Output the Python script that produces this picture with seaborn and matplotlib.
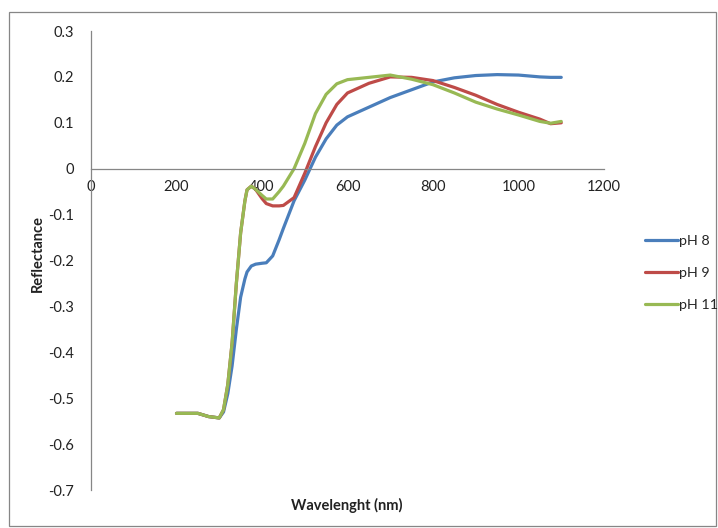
import matplotlib
matplotlib.use("Agg")
import matplotlib.pyplot as plt
import seaborn as sns
import pandas as pd
from matplotlib.patches import Rectangle

wavelength = [200, 250, 275, 300, 310, 320, 330, 340, 350, 360, 365, 375, 385, 400,
              410, 425, 440, 450, 475, 500, 525, 550, 575, 600, 650, 700, 750, 800,
              850, 900, 950, 1000, 1050, 1075, 1100]
ph8 = [-0.533, -0.533, -0.540, -0.543, -0.530, -0.490, -0.430, -0.350, -0.280, -0.240,
       -0.225, -0.212, -0.208, -0.206, -0.205, -0.190, -0.155, -0.130, -0.070, -0.025,
       0.025, 0.065, 0.095, 0.113, 0.134, 0.155, 0.172, 0.189, 0.198, 0.203, 0.205,
       0.204, 0.200, 0.199, 0.199]
ph9 = [-0.533, -0.533, -0.540, -0.543, -0.525, -0.470, -0.380, -0.250, -0.140, -0.070,
       -0.046, -0.038, -0.045, -0.065, -0.076, -0.081, -0.081, -0.080, -0.063, -0.010,
       0.048, 0.100, 0.140, 0.165, 0.186, 0.200, 0.199, 0.192, 0.177, 0.160, 0.140,
       0.123, 0.108, 0.098, 0.100]
ph11 = [-0.533, -0.533, -0.540, -0.543, -0.525, -0.470, -0.380, -0.250, -0.140, -0.070,
        -0.046, -0.038, -0.045, -0.058, -0.066, -0.066, -0.050, -0.038, 0.000, 0.055,
        0.120, 0.162, 0.185, 0.194, 0.199, 0.204, 0.195, 0.183, 0.165, 0.145, 0.130,
        0.117, 0.103, 0.099, 0.103]
series_names = ["pH 8", "pH 9", "pH 11"]
colors = ["#4A7EBB", "#BE4B48", "#98B954"]
x_ticks = [0, 200, 400, 600, 800, 1000, 1200]
y_ticks = [0.3, 0.2, 0.1, 0, -0.1, -0.2, -0.3, -0.4, -0.5, -0.6, -0.7]

df = pd.concat([
    pd.DataFrame({"Wavelength": wavelength, "Reflectance": vals, "Series": name})
    for name, vals in zip(series_names, [ph8, ph9, ph11])
], ignore_index=True)

sns.set_theme(style="white")
plt.rcParams["font.family"] = ["Lato", "DejaVu Sans"]

fig = plt.figure(figsize=(7.18, 5.28), dpi=100)
ax = fig.add_axes([91/718, 1-490/528, (604-91)/718, (490-31)/528])

sns.lineplot(data=df, x="Wavelength", y="Reflectance", hue="Series",
             palette=colors, linewidth=2.3, ax=ax, sort=False, legend=False)
for ln in ax.lines:
    ln.set_solid_joinstyle("round")
    ln.set_solid_capstyle("round")

gray = "#868686"
ax.set_xlim(0, 1200)
ax.set_ylim(-0.7, 0.3)
ax.set_xticks(x_ticks)
ax.set_xticklabels([str(t) for t in x_ticks])
ax.set_yticks(y_ticks)
ax.set_yticklabels([("%g" % t) for t in y_ticks])
ax.spines["bottom"].set_position(("data", 0))
ax.spines["top"].set_visible(False)
ax.spines["right"].set_visible(False)
for s in ["left", "bottom"]:
    ax.spines[s].set_color(gray)
    ax.spines[s].set_linewidth(0.9)
ax.tick_params(axis="both", which="both", direction="out", length=4, width=0.9,
               color=gray, labelsize=10.5, labelcolor="#222222")
ax.tick_params(axis="x", pad=4)
ax.tick_params(axis="y", pad=8)
ax.set_xlabel("")
ax.set_ylabel("")
ax.grid(False)

fig.text(38/718, 1-253/528, "Reflectance", rotation=90, ha="center", va="center",
         fontsize=10.5, fontweight="bold", color="#222222")
fig.text(347/718, 1-505/528, "Wavelenght (nm)", ha="center", va="center",
         fontsize=10.5, fontweight="bold", color="#222222")

# legend
handles = [plt.Line2D([], [], color=c, linewidth=2.3) for c in colors]
fig.legend(handles, series_names, loc="center left", bbox_to_anchor=(639/718, 1-273/528),
           frameon=False, fontsize=10.3, handlelength=2.3, handletextpad=0.1,
           labelspacing=1.4, borderaxespad=0)

fig.patches.append(Rectangle((9/718, 2/528), 707/718, 514/528, transform=fig.transFigure,
                             fill=False, edgecolor=gray, linewidth=0.9))

fig.savefig("out.png", dpi=100)
